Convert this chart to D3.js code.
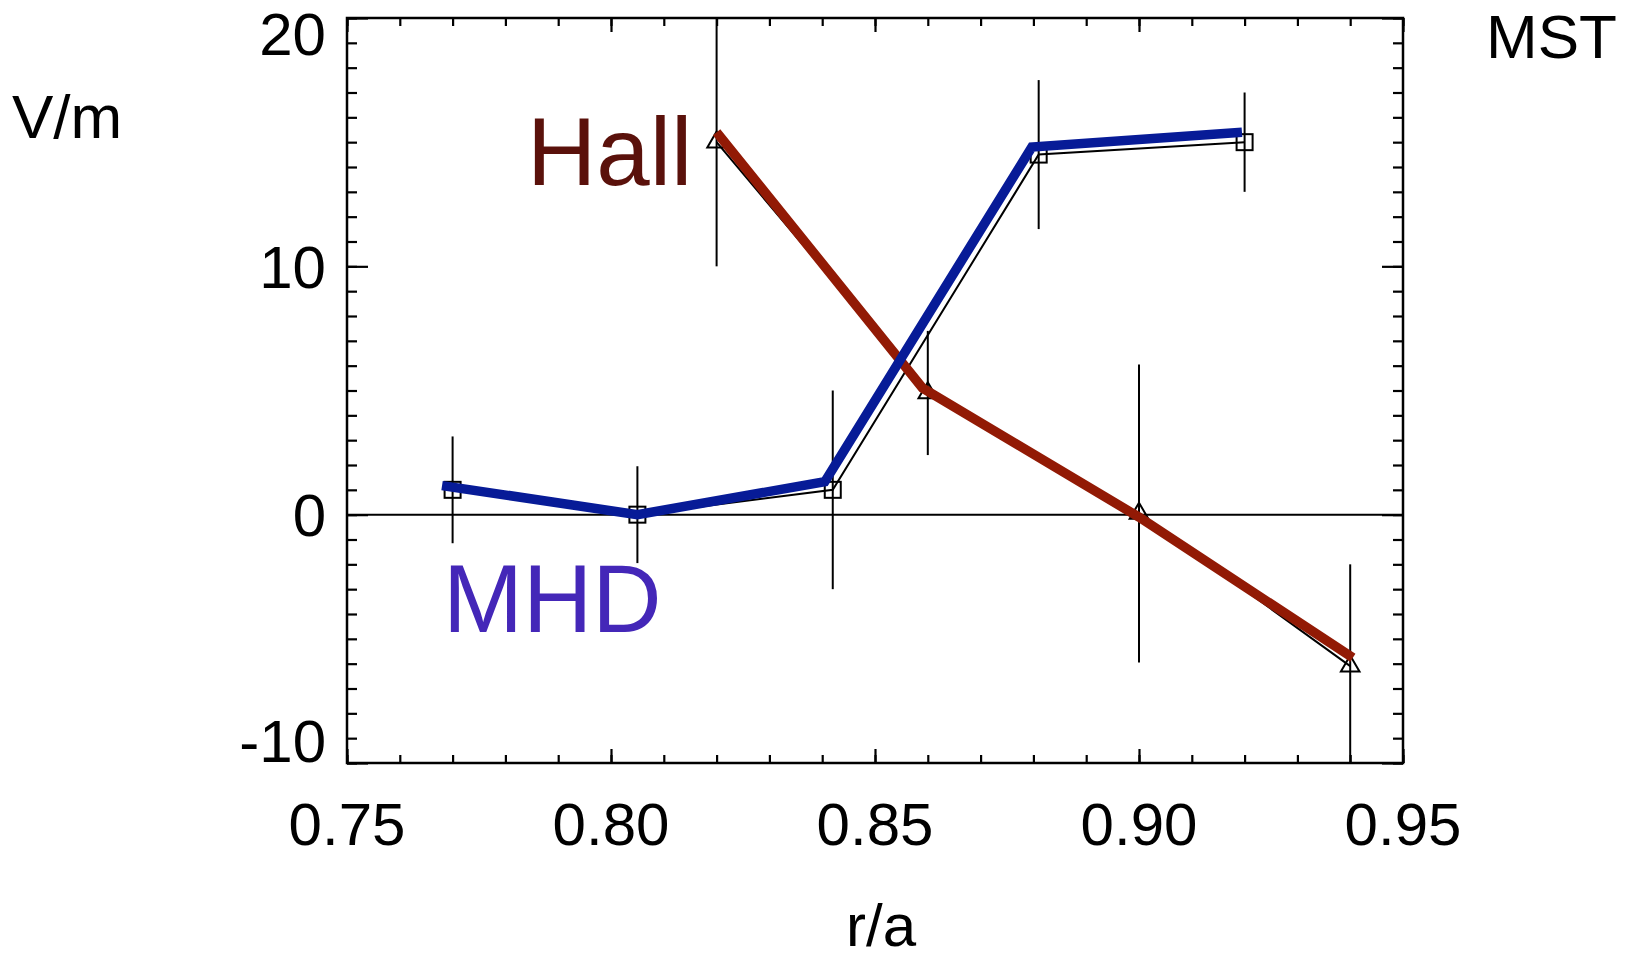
<!DOCTYPE html>
<html>
<head>
<meta charset="utf-8">
<script src="https://cdn.jsdelivr.net/npm/d3@7"></script>
<style>
  body { margin: 0; background: #fff; }
  text { font-family: "Liberation Sans", Arial, Helvetica, sans-serif; }
</style>
</head>
<body>
<svg id="chart"></svg>
<script>
// measured points (black markers + error bars)
var mhdR   = [0.77, 0.805, 0.842, 0.881, 0.92]
var mhdVal = [1.0, 0.0, 1.0, 14.5, 15.0]
var mhdErr = [2.15, 1.95, 4.0, 3.0, 2.0]

var hallR   = [0.82, 0.86, 0.90, 0.94]
var hallVal = [15.0, 4.9, 0.05, -6.1]
var hallErr = [5.0, 2.5, 6.0, 4.1]

// the thick hand-drawn curves on top
var mhdCurveR   = [0.768, 0.805, 0.8405, 0.8797, 0.9195]
var mhdCurveVal = [1.17, 0.0, 1.33, 14.8, 15.4]
var hallCurveR   = [0.82, 0.859, 0.90, 0.9405]
var hallCurveVal = [15.4, 5.1, -0.1, -5.76]

var xTicks = [0.75, 0.80, 0.85, 0.90, 0.95]
var yTicks = [-10, 0, 10, 20]

var dimensions = {
  width: 1634,
  height: 960,
  margin: { top: 18, bottom: 197, left: 347, right: 231 }
}
var innerW = dimensions.width - dimensions.margin.left - dimensions.margin.right
var innerH = dimensions.height - dimensions.margin.top - dimensions.margin.bottom

var svg = d3.select("#chart")
  .attr("width", dimensions.width)
  .attr("height", dimensions.height)

var g = svg.append("g")
  .attr("transform", "translate(" + dimensions.margin.left + "," + dimensions.margin.top + ")")

var x = d3.scaleLinear().domain([0.75, 0.95]).range([0, innerW])
var y = d3.scaleLinear().domain([-10, 20]).range([innerH, 0])

var clip = g.append("clipPath").attr("id", "plotclip")
  .append("rect").attr("width", innerW).attr("height", innerH)

// minor + major ticks on all four sides
var xMinor = d3.range(0.75, 0.9501, 0.01)
var yMinor = d3.range(-10, 20.01, 1)

function tickStyle(sel) {
  sel.select(".domain").remove()
  sel.selectAll("line").attr("stroke", "#000").attr("stroke-width", 2.2)
}

g.append("g").attr("transform", "translate(0," + innerH + ")")
  .call(d3.axisBottom(x).tickValues(xMinor).tickSize(-8).tickFormat(""))
  .call(tickStyle)
g.append("g").attr("transform", "translate(0," + innerH + ")")
  .call(d3.axisBottom(x).tickValues(xTicks).tickSize(-14).tickFormat(""))
  .call(tickStyle)
g.append("g")
  .call(d3.axisTop(x).tickValues(xMinor).tickSize(-8).tickFormat(""))
  .call(tickStyle)
g.append("g")
  .call(d3.axisTop(x).tickValues(xTicks).tickSize(-14).tickFormat(""))
  .call(tickStyle)

g.append("g")
  .call(d3.axisLeft(y).tickValues(yMinor).tickSize(-10).tickFormat(""))
  .call(tickStyle)
g.append("g")
  .call(d3.axisLeft(y).tickValues(yTicks).tickSize(-21).tickFormat(""))
  .call(tickStyle)
g.append("g").attr("transform", "translate(" + innerW + ",0)")
  .call(d3.axisRight(y).tickValues(yMinor).tickSize(-10).tickFormat(""))
  .call(tickStyle)
g.append("g").attr("transform", "translate(" + innerW + ",0)")
  .call(d3.axisRight(y).tickValues(yTicks).tickSize(-21).tickFormat(""))
  .call(tickStyle)

// frame
g.append("rect")
  .attr("width", innerW)
  .attr("height", innerH)
  .attr("fill", "none")
  .attr("stroke", "#000")
  .attr("stroke-width", 2.5)

// tick labels
g.selectAll(".xlab")
  .data(xTicks)
  .enter().append("text")
  .attr("class", "xlab")
  .attr("x", function(d) { return x(d) })
  .attr("y", innerH + 82)
  .attr("text-anchor", "middle")
  .style("font-size", "60px")
  .text(function(d) { return d3.format(".2f")(d) })

g.selectAll(".ylab")
  .data(yTicks)
  .enter().append("text")
  .attr("class", "ylab")
  .attr("x", -21)
  .attr("y", function(d) { return Math.max(37, Math.min(innerH - 1, y(d) + 21.5)) })
  .attr("text-anchor", "end")
  .style("font-size", "60px")
  .text(function(d) { return d })

// zero line
g.append("line")
  .attr("x1", 0).attr("x2", innerW)
  .attr("y1", y(0)).attr("y2", y(0))
  .attr("stroke", "#000")
  .attr("stroke-width", 2)

var plot = g.append("g").attr("clip-path", "url(#plotclip)")

// error bars
var mhdPts = mhdR.map(function(r, i) { return { r: r, v: mhdVal[i], e: mhdErr[i] } })
var hallPts = hallR.map(function(r, i) { return { r: r, v: hallVal[i], e: hallErr[i] } })

plot.selectAll(".err")
  .data(mhdPts.concat(hallPts))
  .enter().append("line")
  .attr("class", "err")
  .attr("x1", function(d) { return x(d.r) })
  .attr("x2", function(d) { return x(d.r) })
  .attr("y1", function(d) { return y(d.v + d.e) })
  .attr("y2", function(d) { return y(d.v - d.e) })
  .attr("stroke", "#000")
  .attr("stroke-width", 2)

// thin black lines through the points
var line = d3.line()
  .x(function(d) { return x(d.r) })
  .y(function(d) { return y(d.v) })

plot.append("path").datum(mhdPts).attr("d", line)
  .attr("fill", "none").attr("stroke", "#000").attr("stroke-width", 2)
plot.append("path").datum(hallPts).attr("d", line)
  .attr("fill", "none").attr("stroke", "#000").attr("stroke-width", 2)

// markers
plot.selectAll(".sq")
  .data(mhdPts)
  .enter().append("rect")
  .attr("class", "sq")
  .attr("x", function(d) { return x(d.r) - 8 })
  .attr("y", function(d) { return y(d.v) - 8 })
  .attr("width", 16).attr("height", 16)
  .attr("fill", "none").attr("stroke", "#000").attr("stroke-width", 2)

var tri = d3.symbol().type(d3.symbolTriangle).size(150)
plot.selectAll(".tri")
  .data(hallPts)
  .enter().append("path")
  .attr("class", "tri")
  .attr("transform", function(d) { return "translate(" + x(d.r) + "," + y(d.v) + ")" })
  .attr("d", tri)
  .attr("fill", "none").attr("stroke", "#000").attr("stroke-width", 2)

// thick curves
var mhdCurve = mhdCurveR.map(function(r, i) { return { r: r, v: mhdCurveVal[i] } })
var hallCurve = hallCurveR.map(function(r, i) { return { r: r, v: hallCurveVal[i] } })

plot.append("path").datum(hallCurve).attr("d", line)
  .attr("fill", "none").attr("stroke", "#921a05").attr("stroke-width", 9.5)
plot.append("path").datum(mhdCurve).attr("d", line)
  .attr("fill", "none").attr("stroke", "#071b97").attr("stroke-width", 9.5)

// labels
svg.append("text")
  .text("Hall")
  .attr("x", 527).attr("y", 185)
  .style("font-size", "96px")
  .attr("fill", "#5a110b")

svg.append("text")
  .text("MHD")
  .attr("x", 443).attr("y", 632)
  .style("font-size", "96px")
  .attr("fill", "#4427b8")

svg.append("text")
  .text("V/m")
  .attr("x", 12).attr("y", 138)
  .style("font-size", "62px")

svg.append("text")
  .text("MST")
  .attr("x", 1486).attr("y", 58)
  .style("font-size", "62px")

svg.append("text")
  .text("r/a")
  .attr("x", 881).attr("y", 946)
  .attr("text-anchor", "middle")
  .style("font-size", "60px")
</script>
</body>
</html>
